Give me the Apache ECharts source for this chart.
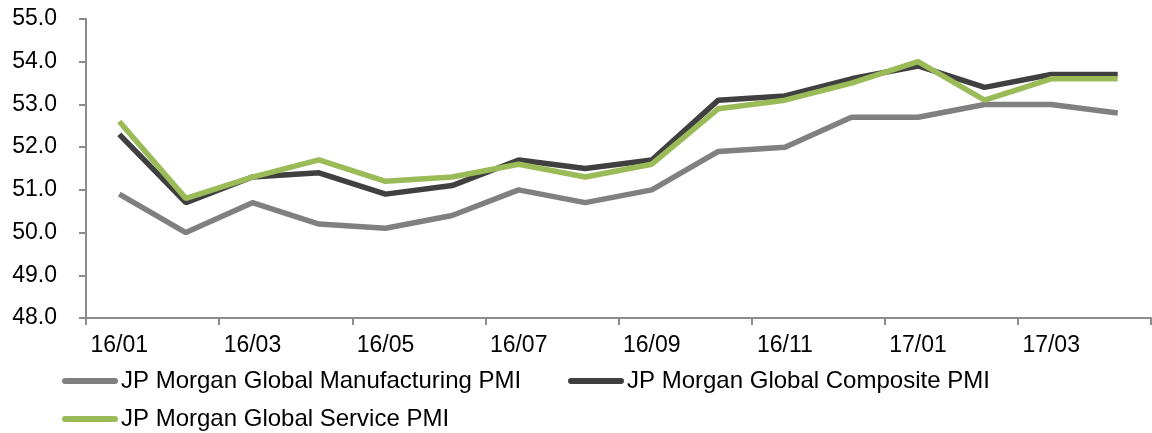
<!DOCTYPE html>
<html>
<head>
<meta charset="utf-8">
<script src="https://cdn.jsdelivr.net/npm/echarts@6/dist/echarts.min.js"></script>
<style>
  html, body { margin: 0; padding: 0; background: #fff; }
  #chart { width: 1152px; height: 433px; }
</style>
</head>
<body>
<div id="chart"></div>
<script>
// Monthly categories (yy/mm)
const months = ['16/01','16/02','16/03','16/04','16/05','16/06','16/07','16/08',
                '16/09','16/10','16/11','16/12','17/01','17/02','17/03','17/04'];

// PMI readings
const manufacturing = [50.9, 50.0, 50.7, 50.2, 50.1, 50.4, 51.0, 50.7, 51.0, 51.9, 52.0, 52.7, 52.7, 53.0, 53.0, 52.8];
const composite     = [52.3, 50.7, 51.3, 51.4, 50.9, 51.1, 51.7, 51.5, 51.7, 53.1, 53.2, 53.6, 53.9, 53.4, 53.7, 53.7];
const service       = [52.6, 50.8, 51.3, 51.7, 51.2, 51.3, 51.6, 51.3, 51.6, 52.9, 53.1, 53.5, 54.0, 53.1, 53.6, 53.6];

const seriesNames = [
  'JP Morgan Global Manufacturing PMI',
  'JP Morgan Global Composite PMI',
  'JP Morgan Global Service PMI'
];

const FONT = '"Liberation Sans", Arial, sans-serif';
const AXIS_COLOR = '#8c8c8c';
const COLORS = ['#808080', '#404040', '#9bbb59'];

// Legend swatch: a short thick line with round caps
const LINE_ICON = 'path://M3,0 L53,0 A3,3 0 0 1 53,6 L3,6 A3,3 0 0 1 3,0 Z';

const chart = echarts.init(document.getElementById('chart'), null, { renderer: 'canvas' });

function legendAt(name, left, top) {
  return {
    data: [name],
    left: left,
    top: top,
    icon: LINE_ICON,
    itemWidth: 56,
    itemHeight: 6,
    itemGap: 0,
    padding: 0,
    textStyle: { fontFamily: FONT, fontSize: 24, color: '#000', padding: [0, 0, 0, -2] }
  };
}

chart.setOption({
  animation: false,
  color: COLORS,
  grid: { left: 86, right: 1, top: 19, bottom: 115, containLabel: false },
  legend: [
    legendAt(seriesNames[0], 62, 369),
    legendAt(seriesNames[1], 568, 369),
    legendAt(seriesNames[2], 62, 407)
  ],
  xAxis: {
    type: 'category',
    data: months,
    boundaryGap: true,
    axisLine: { lineStyle: { color: AXIS_COLOR, width: 2 } },
    axisTick: { show: true, interval: 1, length: 7, lineStyle: { color: AXIS_COLOR, width: 2 } },
    axisLabel: { interval: 1, margin: 16, color: '#000', fontFamily: FONT, fontSize: 23 },
    splitLine: { show: false }
  },
  yAxis: {
    type: 'value',
    min: 48,
    max: 55,
    interval: 1,
    axisLine: { show: true, lineStyle: { color: AXIS_COLOR, width: 2 } },
    axisTick: { show: true, length: 7, lineStyle: { color: AXIS_COLOR, width: 2 } },
    axisLabel: {
      margin: 29,
      color: '#000',
      fontFamily: FONT,
      fontSize: 23,
      formatter: v => v.toFixed(1)
    },
    splitLine: { show: false }
  },
  series: [
    { name: seriesNames[0], type: 'line', data: manufacturing, symbol: 'none', lineStyle: { width: 5.5, color: COLORS[0] } },
    { name: seriesNames[1], type: 'line', data: composite, symbol: 'none', lineStyle: { width: 5.5, color: COLORS[1] } },
    { name: seriesNames[2], type: 'line', data: service, symbol: 'none', lineStyle: { width: 5.5, color: COLORS[2] } }
  ]
});
</script>
</body>
</html>
